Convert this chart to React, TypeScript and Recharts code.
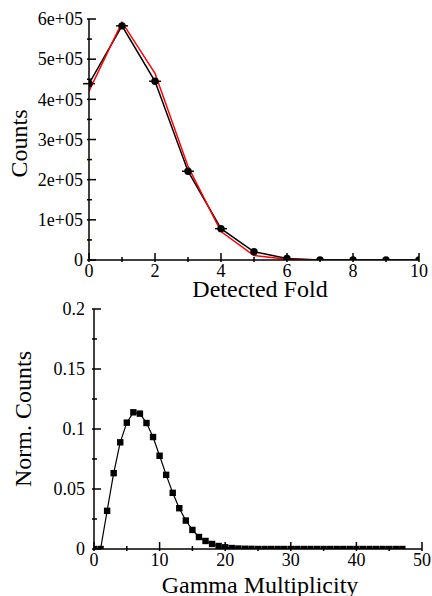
import React from 'react';
import { ComposedChart, LineChart, Line, Scatter, XAxis, YAxis, ErrorBar } from 'recharts';

const FONT = '"Liberation Serif", "Times New Roman", serif';

// top panel: detected fold
const foldX = [0, 1, 2, 3, 4, 5, 6, 7, 8, 9, 10];
const foldCounts = [439000, 583000, 445000, 221000, 78000, 20500, 4000, 300, 0, 0, 0];
const foldModel = [420000, 592000, 465000, 233000, 71000, 11000, 1700, 0, null, null, null];
const foldXErr = [0.18, 0.18, 0.18, 0.18, 0.18, 0, 0, 0, 0, 0, 0];
const foldXTicks = [0, 1, 2, 3, 4, 5, 6, 7, 8, 9, 10];
const foldXMajor = [0, 2, 4, 6, 8, 10];
const foldYTicks = [0, 50000, 100000, 150000, 200000, 250000, 300000, 350000, 400000, 450000, 500000, 550000, 600000];
const foldYMajor = [0, 100000, 200000, 300000, 400000, 500000, 600000];

// bottom panel: gamma multiplicity
const multX = [
  0, 1, 2, 3, 4, 5, 6, 7, 8, 9, 10, 11, 12, 13, 14, 15, 16, 17, 18, 19, 20, 21, 22, 23,
  24, 25, 26, 27, 28, 29, 30, 31, 32, 33, 34, 35, 36, 37, 38, 39, 40, 41, 42, 43, 44, 45, 46, 47,
];
const multNorm = [
  0, 0, 0.0318, 0.0632, 0.0889, 0.1053, 0.1139, 0.1128, 0.105, 0.0933, 0.0777, 0.0618,
  0.0468, 0.034, 0.0237, 0.0159, 0.01, 0.0067, 0.0042, 0.0025, 0.0014, 0.0008, 0.0004, 0.0002,
  0.0001, 0, 0, 0, 0, 0, 0, 0, 0, 0, 0, 0, 0, 0, 0, 0, 0, 0, 0, 0, 0, 0, 0, 0,
];
const multXTicks = [0, 5, 10, 15, 20, 25, 30, 35, 40, 45, 50];
const multXMajor = [0, 10, 20, 30, 40, 50];
const multYTicks = [0, 0.025, 0.05, 0.075, 0.1, 0.125, 0.15, 0.175, 0.2];
const multYMajor = [0, 0.05, 0.1, 0.15, 0.2];

const foldData = foldX.map((x, i) => ({ x, counts: foldCounts[i], model: foldModel[i], xErr: foldXErr[i] }));
const multData = multX.map((x, i) => ({ x, norm: multNorm[i] }));

const fmtExp = (v: number) => (v === 0 ? '0' : `${v / 100000}e+05`);
const fmtPlain = (v: number) => String(v);

// draws inward tick marks (long for major, short for minor) plus the label outside
const AxisTick = (props: any) => {
  const { x, y, payload, side, majors, fmt, gap = 5 } = props;
  const v = payload.value;
  const major = majors.includes(v);
  const len = major ? 9 : 5;
  const label = major && fmt ? fmt(v) : null;
  const textStyle = { fontFamily: FONT, fontSize: 18, fill: '#000' };
  if (side === 'left') {
    return (
      <g>
        <line x1={x} y1={y} x2={x + len} y2={y} stroke="#000" strokeWidth={1.5} />
        {label && <text x={x - gap} y={y} dy="0.35em" textAnchor="end" style={textStyle}>{label}</text>}
      </g>
    );
  }
  if (side === 'right') {
    return <line x1={x} y1={y} x2={x - len} y2={y} stroke="#000" strokeWidth={1.5} />;
  }
  if (side === 'top') {
    return <line x1={x} y1={y} x2={x} y2={y + len} stroke="#000" strokeWidth={1.5} />;
  }
  return (
    <g>
      <line x1={x} y1={y} x2={x} y2={y - len} stroke="#000" strokeWidth={1.5} />
      {label && <text x={x} y={y + gap} dy="0.71em" textAnchor="middle" style={textStyle}>{label}</text>}
    </g>
  );
};

const xTitle = (text: string, shift: number, lift: number) => (props: any) => {
  const vb = props.viewBox;
  return (
    <text x={vb.x + vb.width / 2 + shift} y={vb.y + vb.height - lift} textAnchor="middle"
      style={{ fontFamily: FONT, fontSize: 24, fill: '#000' }}>{text}</text>
  );
};

const yTitle = (text: string, left: number, shift: number) => (props: any) => {
  const vb = props.viewBox;
  const cx = vb.x + left;
  const cy = vb.y + vb.height / 2 + shift;
  return (
    <text x={cx} y={cy} dy="0.35em" textAnchor="middle" transform={`rotate(-90, ${cx}, ${cy})`}
      style={{ fontFamily: FONT, fontSize: 24, fill: '#000' }}>{text}</text>
  );
};

const frame = { stroke: '#000', strokeWidth: 1.5 };

const CircleDot = (p: any) => <circle cx={p.cx} cy={p.cy} r={3.7} fill="#000" />;

const SquareDot = (p: any) => (
  <rect key={`sq-${p.index}`} x={p.cx - 3.2} y={p.cy - 3.2} width={6.4} height={6.4} fill="#000" />
);

export default function App() {
  return (
    <div style={{ position: 'absolute', left: 0, top: 0, width: 432, height: 596, background: '#fff' }}>
      <ComposedChart width={432} height={300} data={foldData} margin={{ top: 19, right: 13, bottom: 0, left: 0 }}>
        <XAxis xAxisId="b" dataKey="x" type="number" domain={[0, 10]} ticks={foldXTicks} interval={0}
          height={40} tickSize={0} tickLine={false} axisLine={frame} allowDataOverflow
          tick={<AxisTick side="bottom" majors={foldXMajor} fmt={fmtPlain} gap={2} />}
          label={xTitle('Detected Fold', 6, 3)} />
        <XAxis xAxisId="t" orientation="top" dataKey="x" type="number" domain={[0, 10]} ticks={foldXTicks}
          interval={0} height={0} tickSize={0} tickLine={false} axisLine={frame} allowDataOverflow
          tick={<AxisTick side="top" majors={foldXMajor} />} />
        <YAxis yAxisId="l" type="number" domain={[0, 600000]} ticks={foldYTicks} interval={0}
          width={89} tickSize={0} tickLine={false} axisLine={frame} allowDataOverflow
          tick={<AxisTick side="left" majors={foldYMajor} fmt={fmtExp} gap={4} />}
          label={yTitle('Counts', 19, 4)} />
        <YAxis yAxisId="r" orientation="right" type="number" domain={[0, 600000]} ticks={foldYTicks}
          interval={0} width={0} tickSize={0} tickLine={false} axisLine={frame} allowDataOverflow
          tick={<AxisTick side="right" majors={foldYMajor} />} />
        <Line xAxisId="b" yAxisId="l" dataKey="counts" stroke="#000" strokeWidth={1.5} dot={false}
          isAnimationActive={false} />
        <Scatter xAxisId="b" yAxisId="l" dataKey="counts" fill="#000" shape={CircleDot} isAnimationActive={false}>
          <ErrorBar dataKey="xErr" direction="x" width={0} stroke="#000" strokeWidth={1.5} isAnimationActive={false} />
        </Scatter>
        <Line xAxisId="b" yAxisId="l" dataKey="model" stroke="#ff0000" strokeWidth={1.5} dot={false}
          connectNulls={false} isAnimationActive={false} />
      </ComposedChart>
      <LineChart width={432} height={296} data={multData} margin={{ top: 9, right: 10, bottom: 0, left: 0 }}>
        <XAxis xAxisId="b" dataKey="x" type="number" domain={[0, 50]} ticks={multXTicks} interval={0}
          height={47} tickSize={0} tickLine={false} axisLine={frame} allowDataOverflow
          tick={<AxisTick side="bottom" majors={multXMajor} fmt={fmtPlain} gap={2} />}
          label={xTitle('Gamma Multiplicity', 2, 3)} />
        <XAxis xAxisId="t" orientation="top" dataKey="x" type="number" domain={[0, 50]} ticks={multXTicks}
          interval={0} height={0} tickSize={0} tickLine={false} axisLine={frame} allowDataOverflow
          tick={<AxisTick side="top" majors={multXMajor} />} />
        <YAxis yAxisId="l" type="number" domain={[0, 0.2]} ticks={multYTicks} interval={0}
          width={94} tickSize={0} tickLine={false} axisLine={frame} allowDataOverflow
          tick={<AxisTick side="left" majors={multYMajor} fmt={fmtPlain} gap={7} />}
          label={yTitle('Norm. Counts', 23, -10)} />
        <YAxis yAxisId="r" orientation="right" type="number" domain={[0, 0.2]} ticks={multYTicks}
          interval={0} width={0} tickSize={0} tickLine={false} axisLine={frame} allowDataOverflow
          tick={<AxisTick side="right" majors={multYMajor} />} />
        <Line xAxisId="b" yAxisId="l" dataKey="norm" stroke="#000" strokeWidth={1.2}
          dot={SquareDot} isAnimationActive={false} />
      </LineChart>
    </div>
  );
}
